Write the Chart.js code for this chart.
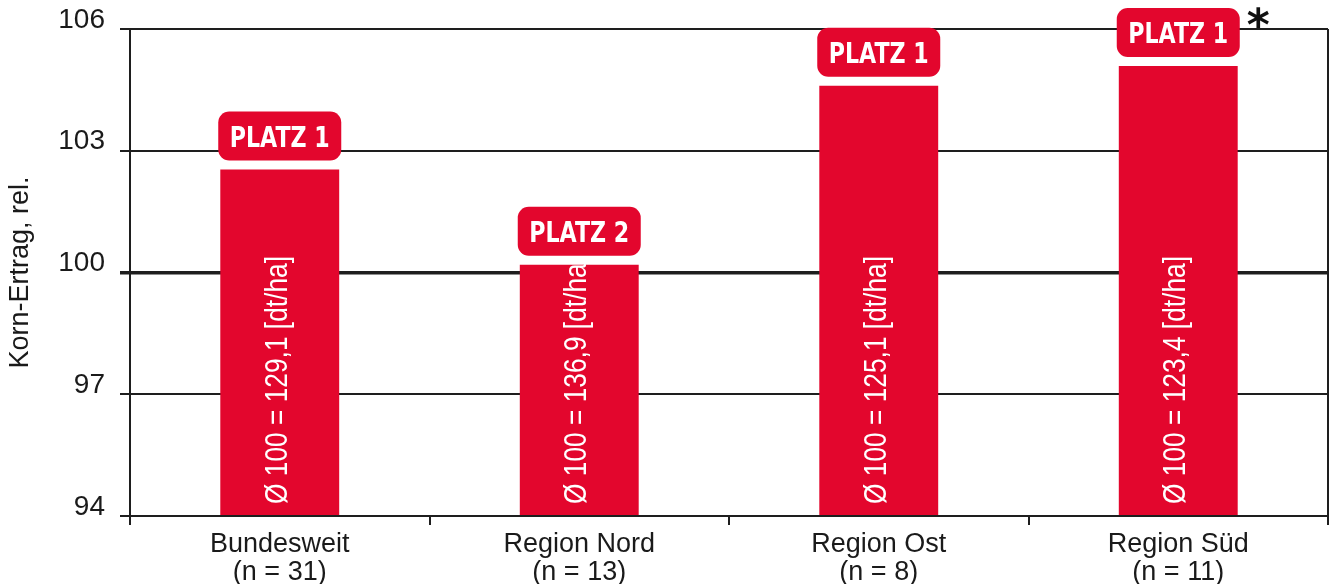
<!DOCTYPE html>
<html>
<head>
<meta charset="utf-8">
<script src="https://cdn.jsdelivr.net/npm/chart.js@4/dist/chart.umd.min.js"></script>
<style>
  html, body { margin: 0; padding: 0; background: #fff; }
  #wrap { width: 1333px; height: 584px; position: relative; }
</style>
</head>
<body>
<div id="wrap"><canvas id="ertragChart"></canvas></div>
<script>
// data
const regionen = [["Bundesweit", "(n = 31)"], ["Region Nord", "(n = 13)"], ["Region Ost", "(n = 8)"], ["Region Süd", "(n = 11)"]];
const kornErtrag = [102.54, 100.19, 104.6, 105.09];
const platz = ["PLATZ 1", "PLATZ 2", "PLATZ 1", "PLATZ 1"];
const basisErtrag = ["129,1", "136,9", "125,1", "123,4"];
const sternchen = [false, false, false, true];
const yTicks = [94, 97, 100, 103, 106];

const ROT = "#e3062d";
const LINIE = "#1e1e1e";
const FONT = "'Liberation Sans', Arial, sans-serif";

// labels over bars + rotated text inside bars + right border
const barLabels = {
  id: "barLabels",
  afterDatasetsDraw(chart) {
    const ctx = chart.ctx;
    const area = chart.chartArea;
    const meta = chart.getDatasetMeta(0);

    // right frame line
    ctx.save();
    ctx.strokeStyle = LINIE;
    ctx.lineWidth = 2;
    ctx.beginPath();
    ctx.moveTo(area.right, area.top);
    ctx.lineTo(area.right, area.bottom);
    ctx.stroke();
    ctx.restore();

    meta.data.forEach((bar, i) => {
      // rotated text
      ctx.save();
      ctx.translate(bar.x + 7, area.bottom - 12);
      ctx.rotate(-Math.PI / 2);
      ctx.fillStyle = "#fff";
      ctx.font = "31px " + FONT;
      const txt = "Ø 100 = " + basisErtrag[i] + " [dt/ha]";
      ctx.scale(248 / ctx.measureText(txt).width, 1);
      ctx.textAlign = "left";
      ctx.textBaseline = "alphabetic";
      ctx.fillText(txt, 0, 0);
      ctx.restore();

      // PLATZ box
      const w = 123, h = 49, r = 11;
      const bx = bar.x - w / 2;
      const by = bar.y - 9 - h;
      ctx.save();
      ctx.fillStyle = ROT;
      ctx.beginPath();
      ctx.roundRect(bx, by, w, h, r);
      ctx.fill();
      ctx.fillStyle = "#fff";
      ctx.font = "bold 29px 'DejaVu Sans', " + FONT;
      ctx.textBaseline = "alphabetic";
      ctx.textAlign = "center";
      ctx.translate(bar.x, by + h / 2 + 11);
      const tw = ctx.measureText(platz[i]).width;
      ctx.scale(100 / tw, 1);
      ctx.fillText(platz[i], 0, 0);
      ctx.restore();

      if (sternchen[i]) {
        ctx.save();
        ctx.fillStyle = "#111";
        ctx.font = "bold 44px 'DejaVu Sans', " + FONT;
        ctx.textAlign = "left";
        ctx.textBaseline = "alphabetic";
        ctx.fillText("*", bx + w + 7, by + 32);
        ctx.restore();
      }
    });
  }
};

window.onload = function () {
  const ctx = document.getElementById("ertragChart").getContext("2d");

  new Chart(ctx, {
    type: "bar",
    data: {
      labels: regionen,
      datasets: [{
        data: kornErtrag,
        base: 94,
        backgroundColor: ROT,
        borderWidth: 0,
        categoryPercentage: 1,
        barPercentage: 0.397
      }]
    },
    options: {
      responsive: true,
      maintainAspectRatio: false,
      animation: false,
      layout: { padding: { top: 25, right: 5, left: 0, bottom: 0 } },
      plugins: {
        legend: { display: false },
        tooltip: { enabled: false }
      },
      scales: {
        x: {
          grid: {
            offset: true,
            drawOnChartArea: false,
            drawTicks: true,
            tickLength: 9,
            color: LINIE,
            lineWidth: 2
          },
          border: { color: LINIE, width: 2 },
          ticks: {
            color: "#1a1a1a",
            font: { family: FONT, size: 27, lineHeight: 1.05 },
            padding: 5,
            maxRotation: 0
          },
          afterFit(scale) { scale.height = 68; }
        },
        y: {
          min: 94,
          max: 106,
          afterBuildTicks(scale) {
            scale.ticks = yTicks.map(v => ({ value: v }));
          },
          grid: {
            color: LINIE,
            lineWidth: ctx => (ctx.tick && ctx.tick.value === 100 ? 3.5 : 2),
            tickLength: 10,
            drawTicks: true
          },
          border: { color: LINIE, width: 2 },
          ticks: {
            color: "#1a1a1a",
            font: { family: FONT, size: 28, lineHeight: 1 },
            padding: 15,
            labelOffset: -9
          },
          title: {
            display: true,
            text: "Korn-Ertrag, rel.",
            color: "#1a1a1a",
            font: { family: FONT, size: 27 },
            padding: { top: 4, bottom: 0 }
          },
          afterFit(scale) { scale.width = 130; }
        }
      }
    },
    plugins: [barLabels]
  });
};
</script>
</body>
</html>
